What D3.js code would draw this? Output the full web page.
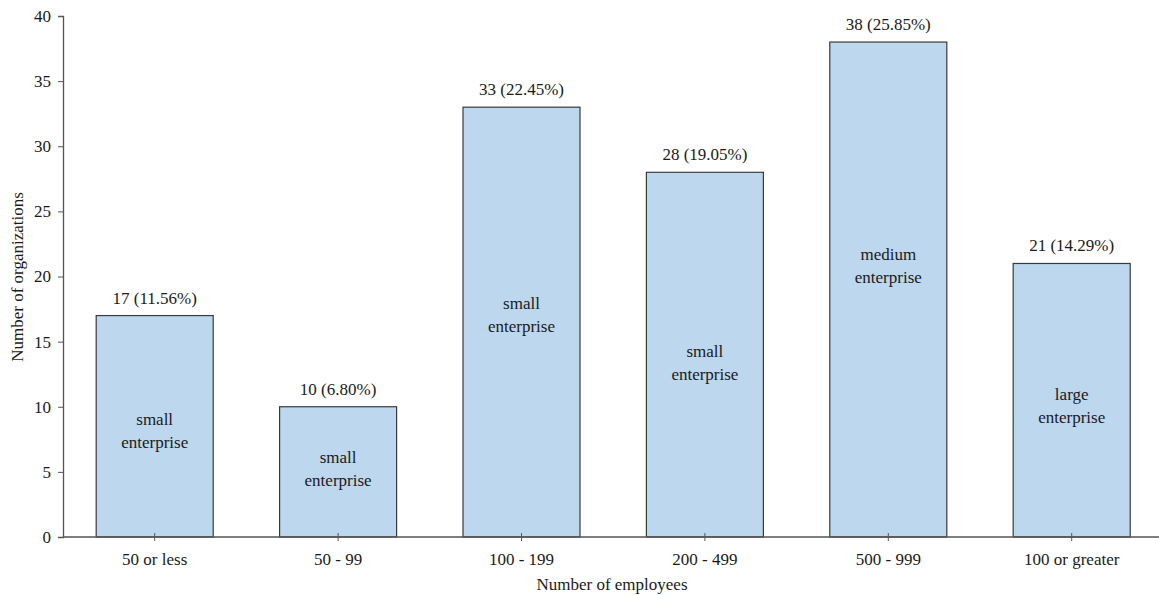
<!DOCTYPE html>
<html><head><meta charset="utf-8">
<script src="https://cdn.jsdelivr.net/npm/d3@7"></script>
<style>body{margin:0;background:#fff}svg{display:block}svg text{font-family:"Times New Roman","Liberation Serif",Times,serif !important;fill:#1a1a1a}</style>
</head><body>
<script>
const categories = ["50 or less","50 - 99","100 - 199","200 - 499","500 - 999","100 or greater"];
const counts = [17,10,33,28,38,21];
const percents = ["11.56%","6.80%","22.45%","19.05%","25.85%","14.29%"];
const notes = [["small","enterprise"],["small","enterprise"],["small","enterprise"],["small","enterprise"],["medium","enterprise"],["large","enterprise"]];
const noteAt = [8.4, 5.5, 17.3, 13.6, 21.1, 10.3];
const yTicks = [0,5,10,15,20,25,30,35,40];

const FF='"Times New Roman","Liberation Serif",Times,serif';
const W=1159,H=595;
const svg=d3.select("body").append("svg").attr("width",W).attr("height",H).style("font-family",FF);
const x=d3.scaleBand().domain(categories).range([63,1163.4]).paddingInner(0.362).paddingOuter(0.181);
const y=d3.scaleLinear().domain([0,40]).range([537,16]);

const bars=svg.append("g");
bars.selectAll("rect").data(categories).join("rect")
 .attr("x",d=>x(d)).attr("width",x.bandwidth())
 .attr("y",(d,i)=>y(counts[i])).attr("height",(d,i)=>y(0)-y(counts[i]))
 .attr("fill","#BDD7EE").attr("stroke","#3a3a3a").attr("stroke-width",1.2);

const yAxis=svg.append("g").attr("transform","translate(63,0)")
 .call(d3.axisLeft(y).tickValues(yTicks).tickSize(5).tickPadding(7));
yAxis.attr("font-family",FF).attr("font-size",17);
yAxis.select(".domain").attr("stroke","#555").attr("stroke-width",1.3);
yAxis.selectAll(".tick line").attr("stroke","#555");
yAxis.selectAll("text").attr("fill","#1a1a1a");

const xAxis=svg.append("g").attr("transform","translate(0,537)")
 .call(d3.axisBottom(x).tickSize(4).tickSizeOuter(0).tickPadding(12));
xAxis.attr("font-family",FF).attr("font-size",17);
xAxis.select(".domain").attr("stroke","#555").attr("stroke-width",1.3).attr("d","M63,0H1159");
xAxis.selectAll(".tick line").attr("stroke","#555").attr("y1",-4);
xAxis.selectAll("text").attr("fill","#1a1a1a");

svg.append("g").attr("font-size",17).selectAll("text").data(categories).join("text")
 .attr("x",d=>x(d)+x.bandwidth()/2).attr("y",(d,i)=>y(counts[i])-12)
 .attr("text-anchor","middle")
 .text((d,i)=>counts[i]+" ("+percents[i]+")");

const ng=svg.append("g").attr("font-size",17);
categories.forEach((c,i)=>{
  const cx=x(c)+x.bandwidth()/2;
  const t=ng.append("text").attr("x",cx).attr("y",y(noteAt[i])).attr("text-anchor","middle");
  t.append("tspan").attr("x",cx).attr("dy","-0.15em").text(notes[i][0]);
  t.append("tspan").attr("x",cx).attr("dy","1.35em").text(notes[i][1]);
});

svg.append("text").attr("x",612).attr("y",590).attr("text-anchor","middle").attr("font-size",17).text("Number of employees");
svg.append("text").attr("transform","translate(23,277) rotate(-90)").attr("text-anchor","middle").attr("font-size",17).text("Number of organizations");
</script>
</body></html>
